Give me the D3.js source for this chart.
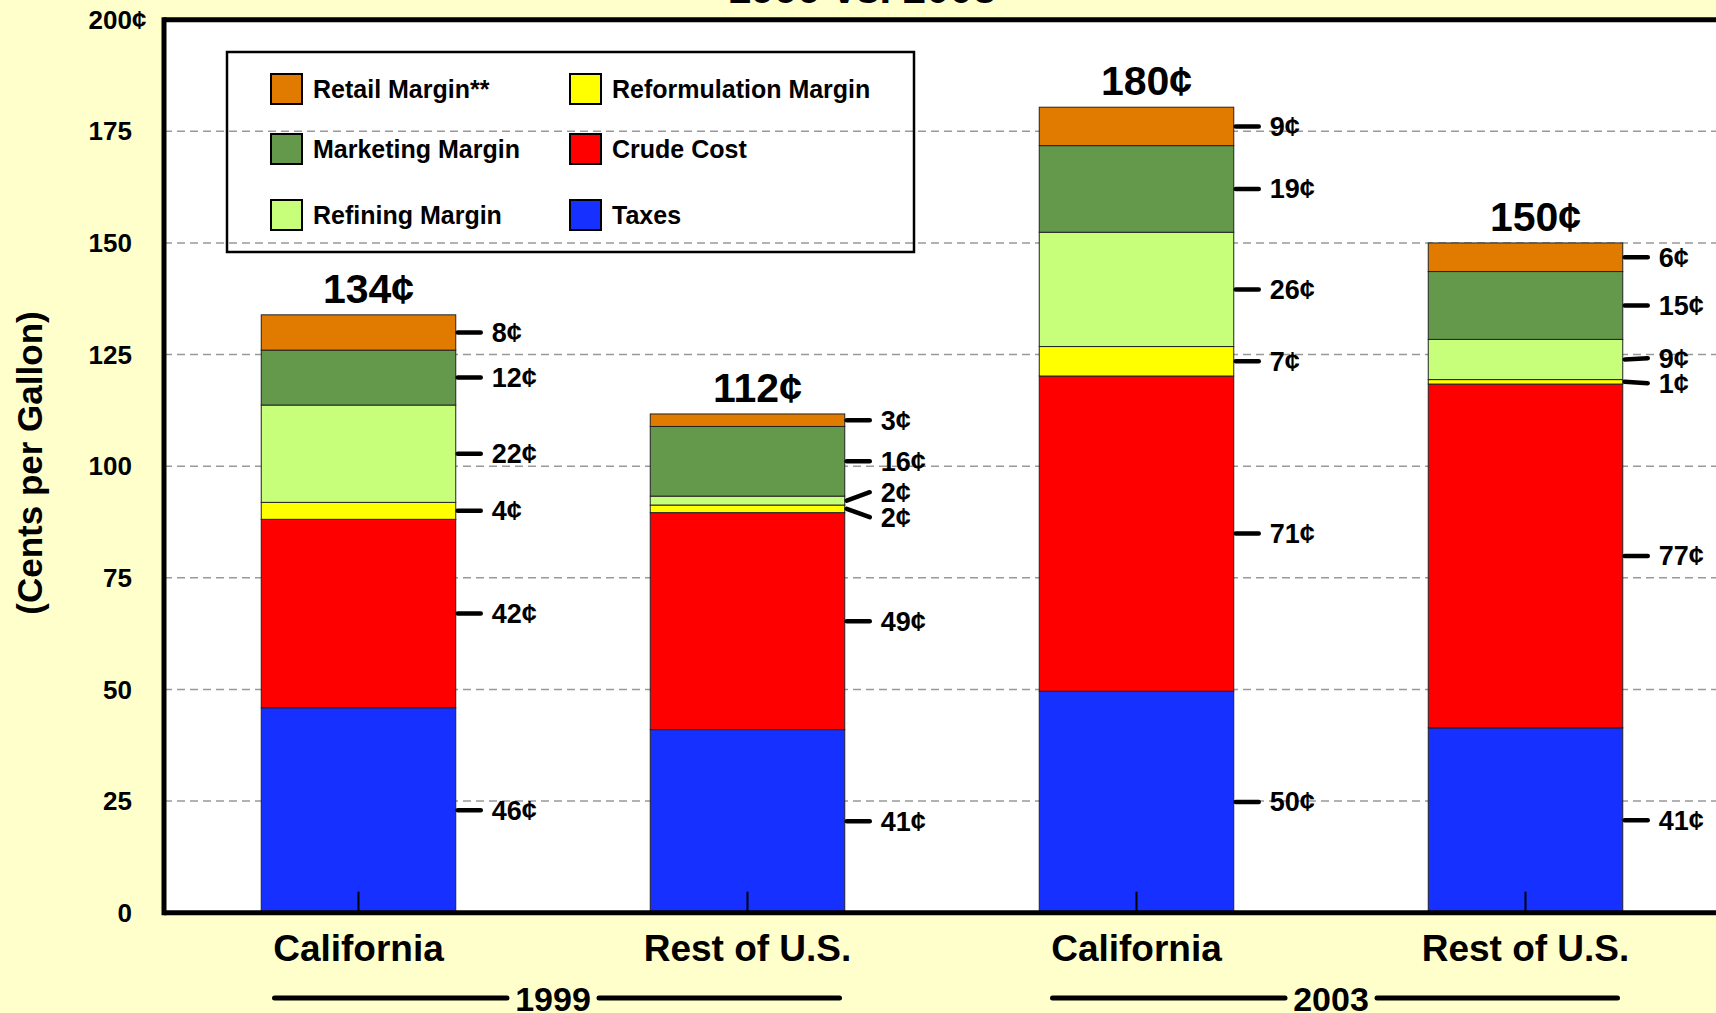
<!DOCTYPE html>
<html>
<head>
<meta charset="utf-8">
<script src="https://cdn.jsdelivr.net/npm/d3@7"></script>
<style>
    body{ margin:0; background:#FFFFCC; }
    svg{ display:block; font-family:"Liberation Sans", Arial, sans-serif; font-weight:bold; }
</style>
</head>
<body>
<svg id="chart"></svg>
<script>

// ---- data (cents per gallon) ----
var categories=["California","Rest of U.S.","California","Rest of U.S."];
var years=["1999","1999","2003","2003"];
var yTicks=[0,25,50,75,100,125,150,175,200];

var seriesKeys=["taxes","crude","reform","refining","marketing","retail"];
var seriesNames=["Taxes","Crude Cost","Reformulation Margin","Refining Margin","Marketing Margin","Retail Margin**"];

var taxes=[45.9, 41.0, 49.6, 41.4];
var crudeCost=[42.2, 48.6, 70.6, 77.0];
var reformulationMargin=[3.8, 1.7, 6.6, 1.0];
var refiningMargin=[21.8, 2.0, 25.6, 9.0];
var marketingMargin=[12.3, 15.6, 19.4, 15.2];
var retailMargin=[7.9, 2.8, 8.6, 6.4];

var legendOrder=["retail","marketing","refining","reform","crude","taxes"];

var colores={
    taxes:"#1530FF",
    crude:"#FF0000",
    reform:"#FFFF00",
    refining:"#C8FF7A",
    marketing:"#64994C",
    retail:"#E07B00"
};

var rows=categories.map(function(c,i){
    return { idx:i, taxes:taxes[i], crude:crudeCost[i], reform:reformulationMargin[i],
             refining:refiningMargin[i], marketing:marketingMargin[i], retail:retailMargin[i] };
});

// ---- layout ----
var W=1716, H=1013;
var plotLeft=164, plotTop=19.7, plotBottom=912.7, paso=389;

var svg=d3.select("#chart").attr("width",W).attr("height",H);

svg.append("rect")
    .attr("width",W).attr("height",H)
    .attr("fill","#FFFFCC");

var y=d3.scaleLinear().domain([0,200]).range([plotBottom,plotTop]);

var x=d3.scaleBand()
    .domain(d3.range(categories.length))
    .range([plotLeft, plotLeft+paso*categories.length])
    .paddingInner(0.5)
    .paddingOuter(0.25);

var bw=x.bandwidth();

// plot area
svg.append("rect")
    .attr("x",plotLeft).attr("y",plotTop)
    .attr("width",W-plotLeft).attr("height",plotBottom-plotTop)
    .attr("fill","#ffffff");

// dashed gridlines
svg.selectAll(".grid")
    .data(yTicks.filter(function(t){ return t>0 && t<200; }))
    .enter().append("line")
    .attr("class","grid")
    .attr("x1",plotLeft).attr("x2",W)
    .attr("y1",function(d){ return y(d); })
    .attr("y2",function(d){ return y(d); })
    .attr("stroke","#999999")
    .attr("stroke-width",1.5)
    .attr("stroke-dasharray","8,5");

// legend
var legend=svg.append("g");

legend.append("rect")
    .attr("x",227).attr("y",52)
    .attr("width",687).attr("height",200)
    .attr("fill","none")
    .attr("stroke","#000")
    .attr("stroke-width",2.5);

var filasY=[89,149,215];
var colX=[271,570];

legendOrder.forEach(function(k,i){
    var cx=colX[Math.floor(i/3)];
    var cy=filasY[i%3];

    legend.append("rect")
        .attr("x",cx).attr("y",cy-15)
        .attr("width",31).attr("height",30)
        .attr("fill",colores[k])
        .attr("stroke","#000")
        .attr("stroke-width",2);

    legend.append("text")
        .attr("x",cx+42).attr("y",cy)
        .attr("dy","0.35em")
        .style("font-size","25px")
        .text(seriesNames[seriesKeys.indexOf(k)]);
});

// stacked bars
var stacked=d3.stack().keys(seriesKeys)(rows);

svg.selectAll(".serie")
    .data(stacked)
    .enter().append("g")
    .attr("class","serie")
    .attr("fill",function(d){ return colores[d.key]; })
    .selectAll("rect")
    .data(function(d){ return d; })
    .enter().append("rect")
    .attr("x",function(d){ return x(d.data.idx); })
    .attr("y",function(d){ return y(d[1]); })
    .attr("width",bw)
    .attr("height",function(d){ return y(d[0])-y(d[1]); })
    .attr("stroke","#222")
    .attr("stroke-width",1);

// category ticks inside bars
svg.selectAll(".xtick")
    .data(rows)
    .enter().append("line")
    .attr("x1",function(d){ return x(d.idx)+bw/2; })
    .attr("x2",function(d){ return x(d.idx)+bw/2; })
    .attr("y1",plotBottom)
    .attr("y2",plotBottom-21)
    .attr("stroke","#000")
    .attr("stroke-width",2);

// frame
svg.append("line")
    .attr("x1",plotLeft).attr("x2",plotLeft)
    .attr("y1",plotTop-2.5).attr("y2",plotBottom+2.5)
    .attr("stroke","#000").attr("stroke-width",5);
svg.append("line")
    .attr("x1",plotLeft).attr("x2",W)
    .attr("y1",plotTop).attr("y2",plotTop)
    .attr("stroke","#000").attr("stroke-width",5);
svg.append("line")
    .attr("x1",plotLeft).attr("x2",W)
    .attr("y1",plotBottom).attr("y2",plotBottom)
    .attr("stroke","#000").attr("stroke-width",5);

// y tick labels
svg.selectAll(".ylab")
    .data(yTicks)
    .enter().append("text")
    .attr("x",132)
    .attr("y",function(d){ return y(d); })
    .attr("dy","0.35em")
    .style("font-size","26px")
    .style("text-anchor","end")
    .text(function(d){ return d; });

svg.append("text")
    .attr("x",132)
    .attr("y",y(200))
    .attr("dy","0.35em")
    .style("font-size","26px")
    .style("text-anchor","start")
    .text("¢");

// y axis title
svg.append("text")
    .attr("transform","translate(30,463) rotate(-90)")
    .attr("dy","0.35em")
    .style("font-size","35px")
    .style("text-anchor","middle")
    .text("(Cents per Gallon)");

// value labels with leader lines
rows.forEach(function(r,i){

    var xr=x(i)+bw;
    var mids=stacked.map(function(s){ return (y(s[i][0])+y(s[i][1]))/2; });
    var posY=mids.slice();

    // push apart labels of thin neighbouring segments
    for(var k=1; k < posY.length; k++){
        if( posY[k-1]-posY[k] < 25 ){
            var centro=(posY[k-1]+posY[k])/2;
            posY[k-1]=centro+12.5;
            posY[k]=centro-12.5;
        }
    }

    stacked.forEach(function(s,k){
        var v=s[i][1]-s[i][0];

        svg.append("line")
            .attr("x1",xr+2).attr("y1",mids[k])
            .attr("x2",xr+25).attr("y2",posY[k])
            .attr("stroke","#000")
            .attr("stroke-width",4.5)
            .attr("stroke-linecap","round");

        svg.append("text")
            .attr("x",xr+36)
            .attr("y",posY[k])
            .attr("dy","0.35em")
            .style("font-size","27px")
            .text(Math.round(v)+"¢");
    });

    var total=d3.sum(seriesKeys,function(k){ return r[k]; });

    svg.append("text")
        .attr("x",x(i)+bw/2+10)
        .attr("y",y(total)-12)
        .style("font-size","41px")
        .style("text-anchor","middle")
        .text(Math.round(total)+"¢");

    svg.append("text")
        .attr("x",x(i)+bw/2)
        .attr("y",961)
        .style("font-size","37px")
        .style("text-anchor","middle")
        .text(categories[i]);
});

// year groups
var grupos=d3.groups(rows,function(d){ return years[d.idx]; });

grupos.forEach(function(g){
    var c1=x(g[1][0].idx)+bw/2;
    var c2=x(g[1][g[1].length-1].idx)+bw/2;
    var medio=(c1+c2)/2;

    svg.append("line")
        .attr("x1",c1-84).attr("x2",medio-46)
        .attr("y1",998).attr("y2",998)
        .attr("stroke","#000").attr("stroke-width",5)
        .attr("stroke-linecap","round");
    svg.append("line")
        .attr("x1",medio+46).attr("x2",c2+92)
        .attr("y1",998).attr("y2",998)
        .attr("stroke","#000").attr("stroke-width",5)
        .attr("stroke-linecap","round");

    svg.append("text")
        .attr("x",medio)
        .attr("y",1011)
        .style("font-size","34px")
        .style("text-anchor","middle")
        .text(g[0]);
});

// title, mostly above the visible area
svg.append("text")
    .attr("x",862)
    .attr("y",3)
    .style("font-size","42px")
    .style("text-anchor","middle")
    .text("1999 vs. 2003");

</script>
</body>
</html>
